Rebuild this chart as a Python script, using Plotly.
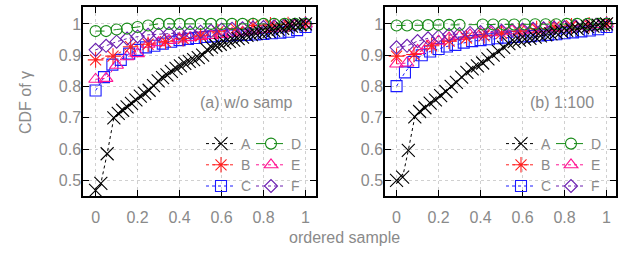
import plotly.graph_objects as go

# ---------------- data ----------------
# Panel (a) w/o samp
A_a_x = [0, 0.025, 0.055, 0.087, 0.108, 0.129, 0.15, 0.171, 0.192, 0.213, 0.234, 0.255, 0.276, 0.298,
         0.319, 0.34, 0.361, 0.383, 0.404, 0.425, 0.446, 0.467, 0.489, 0.51, 0.531, 0.552, 0.573, 0.594,
         0.615, 0.637, 0.658, 0.679, 0.7, 0.721, 0.742, 0.764, 0.785, 0.806, 0.827, 0.848, 0.87, 0.891,
         0.912, 0.933, 0.954, 0.975, 1.0]
A_a_y = [0.468, 0.49, 0.585, 0.70, 0.714, 0.724, 0.735, 0.746, 0.757, 0.769, 0.778, 0.788, 0.803, 0.818,
         0.828, 0.837, 0.848, 0.858, 0.866, 0.874, 0.88, 0.886, 0.892, 0.9, 0.918, 0.926, 0.931, 0.935,
         0.94, 0.944, 0.948, 0.953, 0.958, 0.963, 0.966, 0.969, 0.972, 0.974, 0.976, 0.979, 0.983, 0.986,
         0.99, 0.993, 0.996, 0.998, 1.0]

B_x = [0, 0.083, 0.167, 0.25, 0.333, 0.417, 0.5, 0.583, 0.667, 0.75, 0.833, 0.917, 1.0]
B_a_y = [0.885, 0.897, 0.927, 0.935, 0.943, 0.953, 0.962, 0.975, 0.985, 0.995, 0.997, 0.998, 1.0]

C_x = [0, 0.04, 0.08, 0.12, 0.16, 0.2, 0.24, 0.28, 0.32, 0.36, 0.4, 0.44, 0.48, 0.52, 0.56, 0.6,
       0.64, 0.68, 0.72, 0.76, 0.8, 0.84, 0.88, 0.92, 0.96, 1.0]
C_a_y = [0.787, 0.83, 0.87, 0.885, 0.905, 0.917, 0.925, 0.93, 0.937, 0.943, 0.948, 0.952, 0.955, 0.958,
         0.96, 0.962, 0.963, 0.964, 0.965, 0.966, 0.968, 0.97, 0.972, 0.975, 0.98, 0.99]

S_x = [0, 0.05, 0.1, 0.15, 0.2, 0.25, 0.3, 0.35, 0.4, 0.45, 0.5, 0.55, 0.6, 0.65, 0.7, 0.75, 0.8,
       0.85, 0.9, 0.95, 1.0]
D_a_y = [0.977, 0.977, 0.982, 0.985, 0.99, 0.995, 1.0, 1.0, 1.0, 1.0, 1.0, 1.0, 1.0, 1.0, 1.0, 1.0,
         1.0, 1.0, 1.0, 1.0, 1.0]
E_a_y = [0.823, 0.826, 0.868, 0.895, 0.905, 0.935, 0.94, 0.947, 0.952, 0.956, 0.96, 0.963, 0.966,
         0.97, 0.974, 0.978, 0.982, 0.986, 0.99, 0.995, 1.0]
F_a_y = [0.917, 0.93, 0.943, 0.953, 0.96, 0.965, 0.967, 0.97, 0.971, 0.973, 0.975, 0.978, 0.982,
         0.984, 0.986, 0.988, 0.99, 0.992, 0.995, 0.997, 1.0]

# Panel (b) 1:100
A_b_x = [0, 0.029, 0.056, 0.087, 0.11, 0.135, 0.16, 0.185, 0.21, 0.235, 0.26, 0.285, 0.31, 0.335,
         0.36, 0.385, 0.41, 0.435, 0.46, 0.485, 0.51, 0.535, 0.56, 0.585, 0.61, 0.635, 0.66, 0.685,
         0.71, 0.735, 0.76, 0.785, 0.81, 0.835, 0.86, 0.885, 0.91, 0.935, 0.96, 0.985, 1.0]
A_b_y = [0.5, 0.51, 0.596, 0.703, 0.72, 0.732, 0.747, 0.757, 0.771, 0.784, 0.8, 0.813, 0.83, 0.845,
         0.856, 0.866, 0.875, 0.888, 0.9, 0.912, 0.925, 0.937, 0.943, 0.948, 0.951, 0.954, 0.958, 0.962,
         0.965, 0.968, 0.972, 0.976, 0.979, 0.982, 0.985, 0.988, 0.991, 0.993, 0.996, 0.998, 1.0]
B_b_y = [0.897, 0.902, 0.93, 0.945, 0.955, 0.962, 0.97, 0.977, 0.985, 0.99, 0.994, 0.997, 1.0]
C_b_y = [0.801, 0.845, 0.878, 0.9, 0.912, 0.92, 0.928, 0.933, 0.94, 0.945, 0.948, 0.951, 0.954, 0.956,
         0.958, 0.96, 0.961, 0.963, 0.965, 0.967, 0.97, 0.973, 0.976, 0.979, 0.983, 0.99]
D_b_x = [0, 0.05, 0.1, 0.15, 0.2, 0.25, 0.3, 0.41, 0.46, 0.51, 0.56, 0.61, 0.66, 0.71, 0.76, 0.81,
         0.86, 0.91, 0.96, 1.0]
D_b_y = [0.995, 0.995, 0.995, 0.996, 0.997, 0.997, 0.997, 0.998, 0.998, 0.998, 0.998, 0.999, 0.999,
         0.999, 0.999, 1.0, 1.0, 1.0, 1.0, 1.0]
E_b_y = [0.872, 0.875, 0.915, 0.93, 0.945, 0.955, 0.96, 0.965, 0.968, 0.972, 0.975, 0.978, 0.98,
         0.983, 0.986, 0.988, 0.99, 0.993, 0.995, 0.998, 1.0]
F_b_y = [0.925, 0.93, 0.945, 0.954, 0.96, 0.965, 0.968, 0.971, 0.974, 0.976, 0.978, 0.98, 0.982,
         0.984, 0.986, 0.988, 0.99, 0.993, 0.995, 0.997, 1.0]

x_tickvals = [0, 0.2, 0.4, 0.6, 0.8, 1.0]
x_ticktext = ["0", "0.2", "0.4", "0.6", "0.8", "1"]
y_tickvals = [0.5, 0.6, 0.7, 0.8, 0.9, 1.0]
y_ticktext = ["0.5", "0.6", "0.7", "0.8", "0.9", "1"]

panel_labels = ["(a) w/o samp", "(b) 1:100"]

# ---------------- styles ----------------
styles = {
    "A": dict(color="#000000", symbol="x-thin-open", size=13, dash="dot"),
    "B": dict(color="#ff2020", symbol="asterisk-open", size=13, dash="dot"),
    "C": dict(color="#1a1aff", symbol="square-open", size=11, dash="dot"),
    "D": dict(color="#168a16", symbol="circle-open", size=11, dash="dash"),
    "E": dict(color="#ff1493", symbol="triangle-up-open", size=12, dash="dot"),
    "F": dict(color="#6a1fb0", symbol="diamond-open", size=10, dash="dot"),
}

panels = [
    dict(xa="x", ya="y", legs=("legend", "legend2"),
         data={"A": (A_a_x, A_a_y), "B": (B_x, B_a_y), "C": (C_x, C_a_y),
               "D": (S_x, D_a_y), "E": (S_x, E_a_y), "F": (S_x, F_a_y)}),
    dict(xa="x2", ya="y2", legs=("legend3", "legend4"),
         data={"A": (A_b_x, A_b_y), "B": (B_x, B_b_y), "C": (C_x, C_b_y),
               "D": (D_b_x, D_b_y), "E": (S_x, E_b_y), "F": (S_x, F_b_y)}),
]

GRAY = "#8a8a8a"
FONT = "Liberation Sans, Arial, sans-serif"

fig = go.Figure()
draw_order = ["C", "E", "B", "F", "D", "A"]
legend_rank = {k: i for i, k in enumerate("ABCDEF")}
for p in panels:
    for name in draw_order:
        xs, ys = p["data"][name]
        st = styles[name]
        leg = p["legs"][0] if name in "ABC" else p["legs"][1]
        fig.add_trace(go.Scatter(
            x=xs, y=ys, name=name, mode="lines+markers",
            xaxis=p["xa"], yaxis=p["ya"], legend=leg, legendrank=legend_rank[name],
            line=dict(color=st["color"], width=1, dash=st["dash"]),
            marker=dict(symbol=st["symbol"], size=st["size"], color=st["color"],
                        line=dict(color=st["color"], width=1.1)),
        ))

W, H = 621, 253
def px(v): return v / W
def py(v): return 1 - v / H

axis_common = dict(
    automargin=False,
    showline=True, linecolor="#000000", linewidth=1.5, mirror="ticks",
    ticks="inside", ticklen=6, tickwidth=1.2, tickcolor="#000000",
    showgrid=True, gridcolor="#d0d0d0", gridwidth=1, griddash="dot",
    zeroline=False, tickfont=dict(family=FONT, size=16, color=GRAY),
)

leg_common = dict(bgcolor="rgba(0,0,0,0)", borderwidth=0, font=dict(family=FONT, size=14, color=GRAY),
                  xanchor="left", yanchor="top", itemclick=False, traceorder="normal")

LEG_TOP = 128
fig.update_layout(
    template="none",
    width=W, height=H, margin=dict(l=0, r=0, t=0, b=0, autoexpand=False),
    paper_bgcolor="white", plot_bgcolor="white",
    font=dict(family=FONT, color=GRAY),
    xaxis=dict(domain=[px(83), px(316)], range=[-0.06, 1.05], tickvals=x_tickvals, ticktext=x_ticktext,
               anchor="y", ticklabelstandoff=6, **axis_common),
    yaxis=dict(domain=[py(196), py(7)], range=[0.45, 1.054], tickvals=y_tickvals, ticktext=y_ticktext,
               anchor="x", ticklabelstandoff=-3, **axis_common),
    xaxis2=dict(domain=[px(385), px(616)], range=[-0.055, 1.045], tickvals=x_tickvals, ticktext=x_ticktext,
                anchor="y2", ticklabelstandoff=6, **axis_common),
    yaxis2=dict(domain=[py(196), py(7)], range=[0.45, 1.054], tickvals=y_tickvals, ticktext=y_ticktext,
                anchor="x2", ticklabelstandoff=-3, **axis_common),
    legend=dict(x=px(201), y=py(LEG_TOP), **leg_common),
    legend2=dict(x=px(251), y=py(LEG_TOP), **leg_common),
    legend3=dict(x=px(501), y=py(LEG_TOP), **leg_common),
    legend4=dict(x=px(551), y=py(LEG_TOP), **leg_common),
    annotations=[
        dict(text=panel_labels[0], x=px(295), y=py(102), xref="paper", yref="paper",
             xanchor="right", yanchor="middle", showarrow=False,
             font=dict(family=FONT, size=16, color=GRAY)),
        dict(text=panel_labels[1], x=px(596), y=py(102), xref="paper", yref="paper",
             xanchor="right", yanchor="middle", showarrow=False,
             font=dict(family=FONT, size=16, color=GRAY)),
        dict(text="CDF of γ", x=px(25), y=py(103), xref="paper", yref="paper",
             xanchor="center", yanchor="middle", textangle=-90, showarrow=False,
             font=dict(family=FONT, size=16, color=GRAY)),
        dict(text="ordered sample", x=px(344), y=py(237), xref="paper", yref="paper",
             xanchor="center", yanchor="middle", showarrow=False,
             font=dict(family=FONT, size=16, color=GRAY)),
    ],
)

# Remove the default 8px page margin so the figure sits at the window origin.
fig.write_html("out.html", config={"displayModeBar": False},
               post_script="document.body.style.margin='0px';")
